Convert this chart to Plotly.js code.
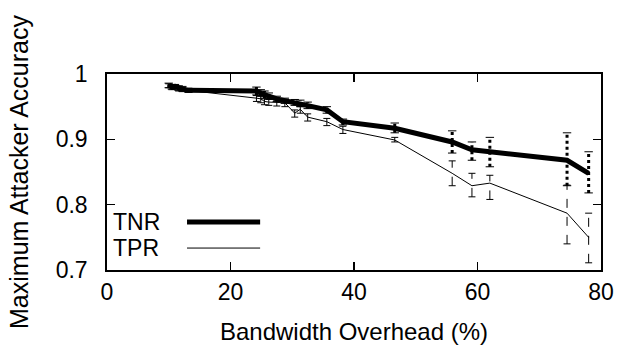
<!DOCTYPE html>
<html>
<head>
<meta charset="utf-8">
<script src="https://cdn.plot.ly/plotly-3.0.1.min.js"></script>
<style>html,body{margin:0;padding:0;background:#fff;}#chart{width:623px;height:351px;}</style>
</head>
<body>
<div id="chart"></div>
<script>
const overhead = [10, 10.5, 11, 11.6, 12.2, 13.2, 24.2, 24.9, 25.5, 26.2, 27.5, 28.8, 30.4, 31.3, 32.5, 35.6, 38.2, 46.6, 55.9, 59.1, 62, 74.5, 78];
const tnr = [0.983, 0.980, 0.981, 0.978, 0.977, 0.975, 0.974, 0.971, 0.968, 0.966, 0.962, 0.959, 0.956, 0.955, 0.952, 0.945, 0.927, 0.917, 0.896, 0.884, 0.881, 0.868, 0.848];
const tpr = [0.982, 0.979, 0.980, 0.977, 0.976, 0.975, 0.963, 0.962, 0.958, 0.957, 0.956, 0.956, 0.940, 0.946, 0.934, 0.927, 0.915, 0.899, 0.848, 0.829, 0.833, 0.787, 0.750];
const tnrHi = [0.986, 0.984, 0.984, 0.982, 0.981, 0.978, 0.980, 0.976, 0.974, 0.971, 0.966, 0.963, 0.961, 0.960, 0.957, 0.950, 0.931, 0.925, 0.913, 0.896, 0.903, 0.910, 0.881];
const tnrLo = [0.979, 0.977, 0.977, 0.975, 0.974, 0.972, 0.968, 0.966, 0.963, 0.962, 0.958, 0.955, 0.952, 0.950, 0.947, 0.940, 0.922, 0.910, 0.879, 0.868, 0.858, 0.829, 0.818];
const tprHi = [0.985, 0.982, 0.983, 0.980, 0.979, 0.978, 0.967, 0.966, 0.962, 0.961, 0.960, 0.960, 0.945, 0.950, 0.939, 0.932, 0.920, 0.903, 0.867, 0.848, 0.845, 0.830, 0.787];
const tprLo = [0.979, 0.976, 0.977, 0.974, 0.973, 0.972, 0.958, 0.956, 0.953, 0.952, 0.951, 0.950, 0.934, 0.940, 0.928, 0.921, 0.909, 0.896, 0.829, 0.812, 0.808, 0.740, 0.711];
const xTicks = [0, 20, 40, 60, 80];
const yTicks = [0.7, 0.8, 0.9, 1];
const yTickLabels = ['0.7', '0.8', '0.9', '1'];
const seriesNames = ['TNR', 'TPR'];

function barTrace(lo, hi, width, dash) {
  const x = [], y = [];
  overhead.forEach((v, i) => { x.push(v, v, null); y.push(lo[i], hi[i], null); });
  return {x, y, mode: 'lines', line: {color: '#000', width, dash}, showlegend: false, hoverinfo: 'skip', connectgaps: false};
}
function capTrace(lo, hi, size) {
  return {x: overhead.concat(overhead), y: lo.concat(hi), mode: 'markers',
    marker: {symbol: 'line-ew-open', size, color: '#000', line: {width: 1, color: '#000'}},
    showlegend: false, hoverinfo: 'skip'};
}

const font = {family: '"Liberation Sans", Arial, Helvetica, sans-serif', color: '#000'};
const data = [
  barTrace(tprLo, tprHi, 1, 'dash'),
  capTrace(tprLo, tprHi, 5),
  barTrace(tnrLo, tnrHi, 3, 'dot'),
  capTrace(tnrLo, tnrHi, 6),
  {x: overhead, y: tpr, mode: 'lines', name: seriesNames[1], line: {color: '#000', width: 1}, showlegend: false},
  {x: overhead, y: tnr, mode: 'lines', name: seriesNames[0], line: {color: '#000', width: 5}, showlegend: false}
];

const layout = {
  width: 623, height: 351,
  margin: {l: 107, r: 22, t: 74, b: 81},
  paper_bgcolor: '#fff', plot_bgcolor: '#fff',
  font: Object.assign({size: 23}, font),
  showlegend: false,
  xaxis: {
    range: [0, 80], tickvals: xTicks, ticktext: xTicks.map(String),
    ticks: 'inside', ticklen: 8, tickwidth: 1.5, tickcolor: '#000',
    showline: true, linecolor: '#000', linewidth: 2, mirror: 'allticks',
    showgrid: false, zeroline: false, automargin: false,
    tickfont: Object.assign({size: 23}, font),
    title: {text: 'Bandwidth Overhead (%)', font: Object.assign({size: 24}, font), standoff: 20}
  },
  yaxis: {
    range: [0.7, 1], tickvals: yTicks, ticktext: yTickLabels.map(t => t + '\u00a0\u00a0'),
    ticks: 'inside', ticklen: 8, tickwidth: 1.5, tickcolor: '#000',
    showline: true, linecolor: '#000', linewidth: 2, mirror: 'allticks',
    showgrid: false, zeroline: false, automargin: false,
    tickfont: Object.assign({size: 23}, font),
    title: {text: 'Maximum Attacker Accuracy', font: Object.assign({size: 25}, font), standoff: 20}
  },
  annotations: [
    {xref: 'paper', yref: 'paper', x: 0.008, y: 0.245, xanchor: 'left', yanchor: 'middle', showarrow: false, text: seriesNames[0], font: Object.assign({size: 23}, font)},
    {xref: 'paper', yref: 'paper', x: 0.008, y: 0.112, xanchor: 'left', yanchor: 'middle', showarrow: false, text: seriesNames[1], font: Object.assign({size: 23}, font)}
  ],
  shapes: [
    {type: 'line', xref: 'paper', yref: 'paper', x0: 0.162, x1: 0.31, y0: 0.245, y1: 0.245, line: {color: '#000', width: 5}},
    {type: 'line', xref: 'paper', yref: 'paper', x0: 0.162, x1: 0.31, y0: 0.112, y1: 0.112, line: {color: '#000', width: 1}}
  ]
};
Plotly.newPlot('chart', data, layout, {staticPlot: true, displayModeBar: false});
</script>
</body>
</html>
